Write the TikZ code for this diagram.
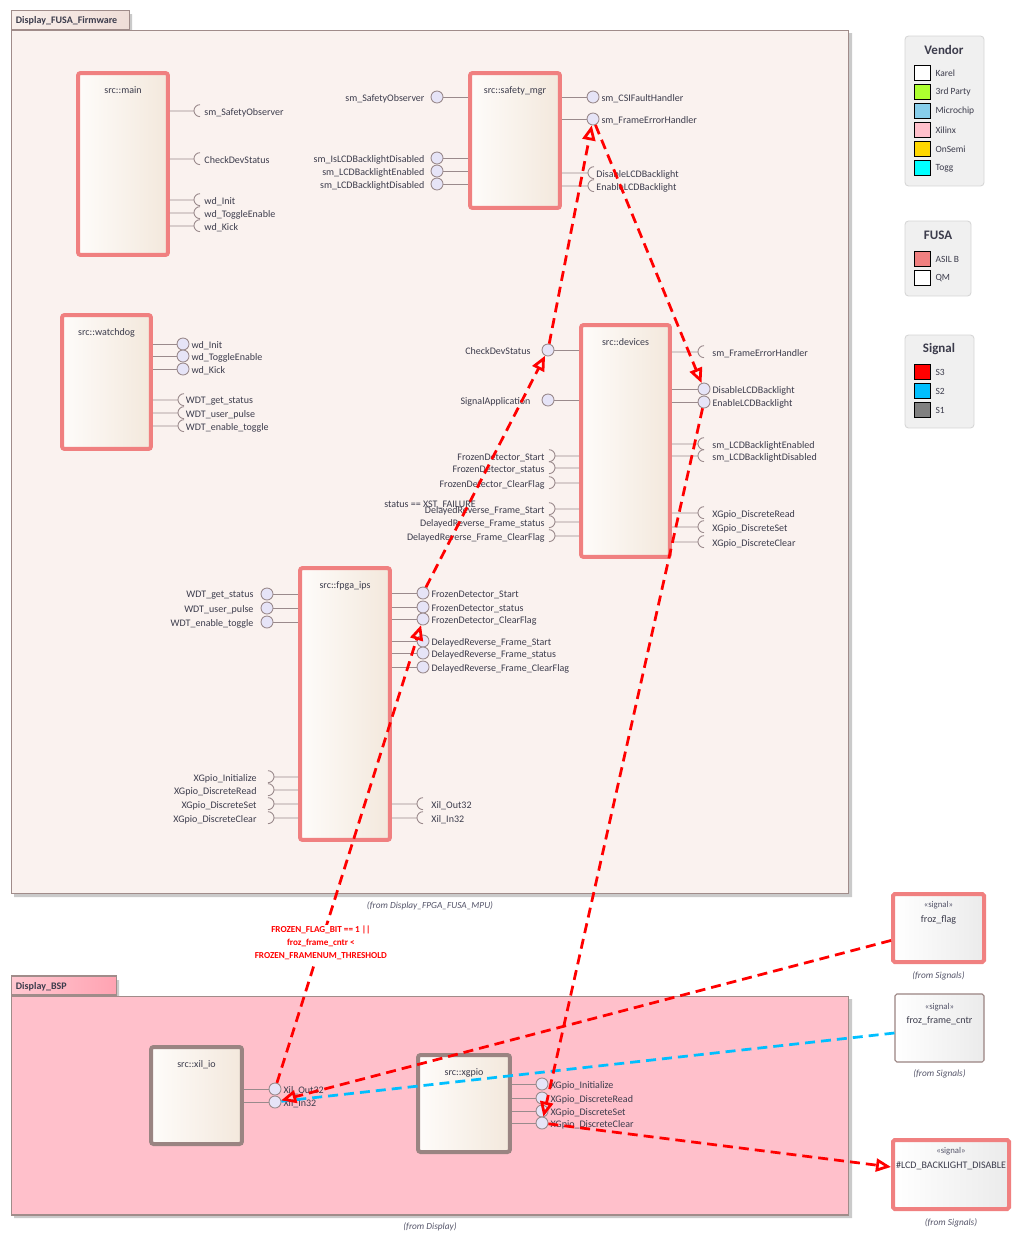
\documentclass[tikz,border=0pt]{standalone}
\usepackage{fontspec}
\setmainfont{Carlito}
\usepackage{tikz}
\usetikzlibrary{arrows.meta}
\usetikzlibrary{positioning}
\definecolor{asil}{HTML}{F08080}
\definecolor{qmedge}{HTML}{9A8482}
\definecolor{pkgedge}{HTML}{A08C8A}
\definecolor{fwbody}{HTML}{FAF2EF}
\definecolor{fwtabL}{HTML}{F9EFEB}
\definecolor{fwtabR}{HTML}{EFDDD7}
\definecolor{bspbody}{HTML}{FFC0CB}
\definecolor{bsptabL}{HTML}{FFC8D1}
\definecolor{bsptabR}{HTML}{FFA3B2}
\definecolor{compL}{HTML}{FEFCFA}
\definecolor{compR}{HTML}{F3E8DC}
\definecolor{sigR}{HTML}{EBEBEB}
\definecolor{portedge}{HTML}{9A8A8C}
\definecolor{lav}{HTML}{E6E4F7}
\definecolor{txt}{HTML}{3C3C4C}
\definecolor{notetxt}{HTML}{55556A}
\definecolor{shd}{HTML}{CACACA}
\definecolor{legbg}{HTML}{F0F0F0}
\definecolor{legedge}{HTML}{D6D6D6}
\definecolor{s3}{HTML}{FF0000}
\definecolor{s2}{HTML}{00BFFF}
\definecolor{s1}{HTML}{808080}
\definecolor{v3rd}{HTML}{ADFF2F}
\definecolor{vmchip}{HTML}{87CEEB}
\definecolor{vxil}{HTML}{FFC0CB}
\definecolor{vonsemi}{HTML}{FFD700}
\definecolor{vtogg}{HTML}{00FFFF}
\newcommand{\portfont}{\fontsize{5.7}{6.5}\selectfont}

\begin{document}
\begin{tikzpicture}[
	x=0.02cm, y=-0.02cm,
	lbl/.style = {font=\portfont, text=txt, inner sep=1pt, yshift=-0.03cm},
	ctitle/.style = {lbl, anchor=north, yshift=-0.24cm},
	comp/.style = {draw=asil, line width=0.08cm, rounded corners=1.5pt, left color=compL, right color=compR, inner sep=0pt},
	compqm/.style = {comp, draw=qmedge},
	prov/.style = {circle, draw=portedge, line width=0.5pt, fill=lav, minimum size=0.24cm, inner sep=0pt},
	sock/.style = {circle, minimum size=0.24cm, inner sep=0pt},
	stub/.style = {draw=portedge, line width=0.5pt},
	pkg/.style = {draw=pkgedge, line width=0.6pt, inner sep=0pt},
	tabtxt/.style = {font=\bfseries\portfont, text=txt, anchor=west, inner sep=0.1cm, yshift=-0.02cm},
	fromnote/.style = {font=\itshape\fontsize{5.3}{6}\selectfont, text=notetxt, inner sep=0pt},
	sigbox/.style = {left color=white, right color=sigR, inner sep=0pt, rounded corners=1pt},
	stereo/.style = {lbl, text=notetxt, font=\fontsize{5}{6}\selectfont, anchor=north, yshift=-0.12cm},
	signame/.style = {lbl, anchor=north, yshift=-0.4cm},
	legbox/.style = {draw=legedge, fill=legbg, rounded corners=2pt, line width=0.5pt},
	legtitle/.style = {font=\bfseries\fontsize{7.4}{8}\selectfont, text=txt},
	swatch/.style = {draw=black, line width=0.5pt, minimum width=0.32cm, minimum height=0.3cm, inner sep=0pt},
	leglbl/.style = {font=\fontsize{5.4}{6}\selectfont, text=txt, inner sep=1pt, xshift=0.06cm},
	cond/.style = {font=\bfseries\fontsize{5.2}{7.4}\selectfont, text=s3, align=center, fill=white, inner sep=1pt},
	sig3/.style = {draw=s3, line width=0.055cm, dash pattern=on 0.2cm off 0.12cm, -{Triangle[open, length=0.3cm, width=0.26cm]}},
	sig2/.style = {draw=s2, line width=0.055cm, dash pattern=on 0.2cm off 0.12cm}
	]
	\useasboundingbox[fill=white] (0,0) rectangle (1019,1244);

	% packages
	\fill[shd] (14,14) rectangle (132,33) (14,33) rectangle (852,897);
	\node[pkg, fill=fwbody, minimum width=16.76cm, minimum height=17.28cm] (fw) at (430,462) {};
	\node[pkg, left color=fwtabL, right color=fwtabR, minimum width=2.36cm, minimum height=0.38cm, anchor=south west,
		label={[tabtxt]west:Display\_FUSA\_Firmware}] (fwtab) at (fw.north west) {};
	\node[fromnote, below=0.14cm of fw] (fwN) {(from Display\_FPGA\_FUSA\_MPU)};

	\fill[shd] (14,980) rectangle (119,999) (14,999) rectangle (852,1218);
	\node[pkg, fill=bspbody, minimum width=16.76cm, minimum height=4.38cm] (bsp) at (430,1105.5) {};
	\node[pkg, left color=bsptabL, right color=bsptabR, minimum width=2.1cm, minimum height=0.38cm, anchor=south west,
		label={[tabtxt]west:Display\_BSP}] (bsptab) at (bsp.north west) {};
	\node[fromnote, below=0.14cm of bsp] (bspN) {(from Display)};

	% src::main
	\node[comp, minimum width=1.8cm, minimum height=3.64cm, label={[ctitle]north:{src::main}}] (main) at (123,164) {};
	\foreach \y/\nm/\lab in {111/SO/sm\_SafetyObserver, 159/CDS/CheckDevStatus, 200/Init/wd\_Init, 213/Tog/wd\_ToggleEnable, 226/Kick/wd\_Kick}{
		\node[sock, label={[lbl, xshift=-0.08cm]right:\lab}] (main\nm) at (200,\y) {};
		\draw[stub] (main.east |- main\nm) -- (main\nm.west) (main\nm.north) arc[start angle=90, end angle=270, radius=0.12cm];
	}

	% src::safety_mgr
	\node[comp, minimum width=1.8cm, minimum height=2.7cm, label={[ctitle]north:{src::safety\_mgr}}] (safe) at (515,140.5) {};
	\foreach \y/\nm/\lab in {97/SO/sm\_SafetyObserver, 158/IsDis/sm\_IsLCDBacklightDisabled, 171/LEn/sm\_LCDBacklightEnabled, 184/LDis/sm\_LCDBacklightDisabled}{
		\node[prov, label={[lbl, xshift=-0.08cm]left:\lab}] (safe\nm) at (437,\y) {};
		\draw[stub] (safe\nm) -- (safe.west |- safe\nm);
	}
	\foreach \y/\nm/\lab in {97/CSI/sm\_CSIFaultHandler, 119/FE/sm\_FrameErrorHandler}{
		\node[prov, label={[lbl]right:\lab}] (safe\nm) at (593,\y) {};
		\draw[stub] (safe.east |- safe\nm) -- (safe\nm);
	}
	\foreach \y/\nm/\lab in {173/Dis/DisableLCDBacklight, 186/En/EnableLCDBacklight}{
		\node[sock, label={[lbl, xshift=-0.12cm]right:\lab}] (safe\nm) at (594,\y) {};
		\draw[stub] (safe.east |- safe\nm) -- (safe\nm.west) (safe\nm.north) arc[start angle=90, end angle=270, radius=0.12cm];
	}

	% src::watchdog
	\node[comp, minimum width=1.78cm, minimum height=2.68cm, label={[ctitle]north:{src::watchdog}}] (wdog) at (106.5,382) {};
	\foreach \y/\nm/\lab in {344/Init/wd\_Init, 356/Tog/wd\_ToggleEnable, 369/Kick/wd\_Kick}{
		\node[prov, label={[lbl]right:\lab}] (wdog\nm) at (183,\y) {};
		\draw[stub] (wdog.east |- wdog\nm) -- (wdog\nm);
	}
	\foreach \y/\nm/\lab in {400/Get/WDT\_get\_status, 413/Pulse/WDT\_user\_pulse, 426/EnTog/WDT\_enable\_toggle}{
		\node[sock, label={[lbl, xshift=-0.13cm]right:\lab}] (wdog\nm) at (184,\y) {};
		\draw[stub] (wdog.east |- wdog\nm) -- (wdog\nm.west) (wdog\nm.north) arc[start angle=90, end angle=270, radius=0.12cm];
	}

	% src::devices
	\node[comp, minimum width=1.78cm, minimum height=4.64cm, label={[ctitle]north:{src::devices}}] (dev) at (625.5,441) {};
	\foreach \y/\nm/\lab in {350/CDS/CheckDevStatus, 400/SigApp/SignalApplication}{
		\node[prov, label={[lbl, xshift=-0.18cm]left:\lab}] (dev\nm) at (548,\y) {};
		\draw[stub] (dev\nm) -- (dev.west |- dev\nm);
	}
	\foreach \y/\nm/\lab in {456/FDStart/FrozenDetector\_Start, 468/FDStatus/FrozenDetector\_status, 483/FDClear/FrozenDetector\_ClearFlag,
		509/DRStart/DelayedReverse\_Frame\_Start, 522/DRStatus/DelayedReverse\_Frame\_status, 536/DRClear/DelayedReverse\_Frame\_ClearFlag}{
		\node[sock, label={[lbl, xshift=0.08cm]left:\lab}] (dev\nm) at (549,\y) {};
		\draw[stub] (dev\nm.east) -- (dev.west |- dev\nm) (dev\nm.north) arc[start angle=90, end angle=-90, radius=0.12cm];
	}
	\foreach \y/\nm/\lab in {352/FE/sm\_FrameErrorHandler, 444/LEn/sm\_LCDBacklightEnabled, 456/LDis/sm\_LCDBacklightDisabled,
		513/Read/XGpio\_DiscreteRead, 527/Set/XGpio\_DiscreteSet, 542/Clear/XGpio\_DiscreteClear}{
		\node[sock, label={[lbl]right:\lab}] (dev\nm) at (704,\y) {};
		\draw[stub] (dev.east |- dev\nm) -- (dev\nm.west) (dev\nm.north) arc[start angle=90, end angle=270, radius=0.12cm];
	}
	\foreach \y/\nm/\lab in {389/Dis/DisableLCDBacklight, 402/En/EnableLCDBacklight}{
		\node[prov, label={[lbl]right:\lab}] (dev\nm) at (704,\y) {};
		\draw[stub] (dev.east |- dev\nm) -- (dev\nm);
	}

	% src::fpga_ips
	\node[comp, minimum width=1.8cm, minimum height=5.44cm, label={[ctitle]north:{src::fpga\_ips}}] (fpga) at (345,704) {};
	\foreach \y/\nm/\lab in {594/Get/WDT\_get\_status, 608/Pulse/WDT\_user\_pulse, 622/EnTog/WDT\_enable\_toggle}{
		\node[prov, label={[lbl, xshift=-0.1cm]left:\lab}] (fpga\nm) at (267,\y) {};
		\draw[stub] (fpga\nm) -- (fpga.west |- fpga\nm);
	}
	\foreach \y/\nm/\lab in {593/FDStart/FrozenDetector\_Start, 607/FDStatus/FrozenDetector\_status, 619/FDClear/FrozenDetector\_ClearFlag,
		641/DRStart/DelayedReverse\_Frame\_Start, 653/DRStatus/DelayedReverse\_Frame\_status, 667/DRClear/DelayedReverse\_Frame\_ClearFlag}{
		\node[prov, label={[lbl]right:\lab}] (fpga\nm) at (423,\y) {};
		\draw[stub] (fpga.east |- fpga\nm) -- (fpga\nm);
	}
	\foreach \y/\nm/\lab in {777/Init/XGpio\_Initialize, 790/Read/XGpio\_DiscreteRead, 804/Set/XGpio\_DiscreteSet, 818/Clear/XGpio\_DiscreteClear}{
		\node[sock, label={[lbl, xshift=-0.06cm]left:\lab}] (fpga\nm) at (268,\y) {};
		\draw[stub] (fpga\nm.east) -- (fpga.west |- fpga\nm) (fpga\nm.north) arc[start angle=90, end angle=-90, radius=0.12cm];
	}
	\foreach \y/\nm/\lab in {804/Out/Xil\_Out32, 818/In/Xil\_In32}{
		\node[sock, label={[lbl]right:\lab}] (fpga\nm) at (423,\y) {};
		\draw[stub] (fpga.east |- fpga\nm) -- (fpga\nm.west) (fpga\nm.north) arc[start angle=90, end angle=270, radius=0.12cm];
	}

	% src::xil_io and src::xgpio
	\node[compqm, minimum width=1.82cm, minimum height=1.94cm, label={[ctitle]north:{src::xil\_io}}] (xil) at (196.5,1095.5) {};
	\foreach \y/\nm/\lab in {1089/Out/Xil\_Out32, 1102/In/Xil\_In32}{
		\node[prov, label={[lbl]right:\lab}] (xil\nm) at (275,\y) {};
		\draw[stub] (xil.east |- xil\nm) -- (xil\nm);
	}
	\node[compqm, minimum width=1.84cm, minimum height=1.94cm, label={[ctitle]north:{src::xgpio}}] (xg) at (464,1103.5) {};
	\foreach \y/\nm/\lab in {1084/Init/XGpio\_Initialize, 1098/Read/XGpio\_DiscreteRead, 1111/Set/XGpio\_DiscreteSet, 1123/Clear/XGpio\_DiscreteClear}{
		\node[prov, label={[lbl]right:\lab}] (xg\nm) at (542,\y) {};
		\draw[stub] (xg.east |- xg\nm) -- (xg\nm);
	}

	% signals
	\node[sigbox, draw=asil, line width=0.08cm, minimum width=1.82cm, minimum height=1.36cm,
		label={[stereo]north:«signal»}, label={[signame]north:froz\_flag}] (frozflag) at (938.5,928) {};
	\node[fromnote, below=0.14cm of frozflag] (frozflagN) {(from Signals)};
	\node[sigbox, draw=qmedge, line width=0.6pt, minimum width=1.78cm, minimum height=1.36cm,
		label={[stereo]north:«signal»}, label={[signame]north:froz\_frame\_cntr}] (frozcntr) at (939.5,1028) {};
	\node[fromnote, below=0.14cm of frozcntr] (frozcntrN) {(from Signals)};
	\node[sigbox, draw=asil, line width=0.08cm, minimum width=2.32cm, minimum height=1.38cm,
		label={[stereo]north:«signal»}, label={[signame]north:\#LCD\_BACKLIGHT\_DISABLE}] (lcd) at (951,1174.5) {};
	\node[fromnote, below=0.14cm of lcd] (lcdN) {(from Signals)};

	% legends
	\node[legbox, minimum width=1.58cm, minimum height=3cm] (vendor) at (944.5,111) {};
	\node[legtitle] (vendorT) at (944,50) {Vendor};
	\foreach \c/\lab [count=\i] in {white/Karel, v3rd/3rd Party, vmchip/Microchip, vxil/Xilinx, vonsemi/OnSemi, vtogg/Togg}
		\node[swatch, fill=\c, label={[leglbl]right:\lab}] (vendor\i) at (922,54+19*\i) {};

	\node[legbox, minimum width=1.32cm, minimum height=1.5cm] (fusa) at (938,258.5) {};
	\node[legtitle] (fusaT) at (938,235) {FUSA};
	\foreach \c/\lab [count=\i] in {asil/ASIL B, white/QM}
		\node[swatch, fill=\c, label={[leglbl]right:\lab}] (fusa\i) at (922,240+19*\i) {};

	\node[legbox, minimum width=1.38cm, minimum height=1.86cm] (signal) at (939.5,381.5) {};
	\node[legtitle] (signalT) at (939,349) {Signal};
	\foreach \c/\lab [count=\i] in {s3/S3, s2/S2, s1/S1}
		\node[swatch, fill=\c, label={[leglbl]right:\lab}] (signal\i) at (922,353+19*\i) {};

	% signal flow
	\draw[sig2] (frozcntr) -- (xilIn);
	\draw[sig3] (frozflag) -- (xilIn);
	\draw[sig3] (xilOut) -- node[pos=0.305, cond] {FROZEN\_FLAG\_BIT == 1 ||\\froz\_frame\_cntr <\\FROZEN\_FRAMENUM\_THRESHOLD} (fpgaFDClear);
	\draw[sig3] (fpgaFDStart) -- node[pos=0.36, lbl, anchor=east, xshift=0.2cm] {status == XST\_FAILURE} (devCDS);
	\draw[sig3] (devCDS) -- (safeFE);
	\draw[sig3] (safeFE) -- (devDis);
	\draw[sig3] (devEn) -- (xgClear);
	\draw[sig3] (xgClear) -- (lcd);

\end{tikzpicture}
\end{document}
